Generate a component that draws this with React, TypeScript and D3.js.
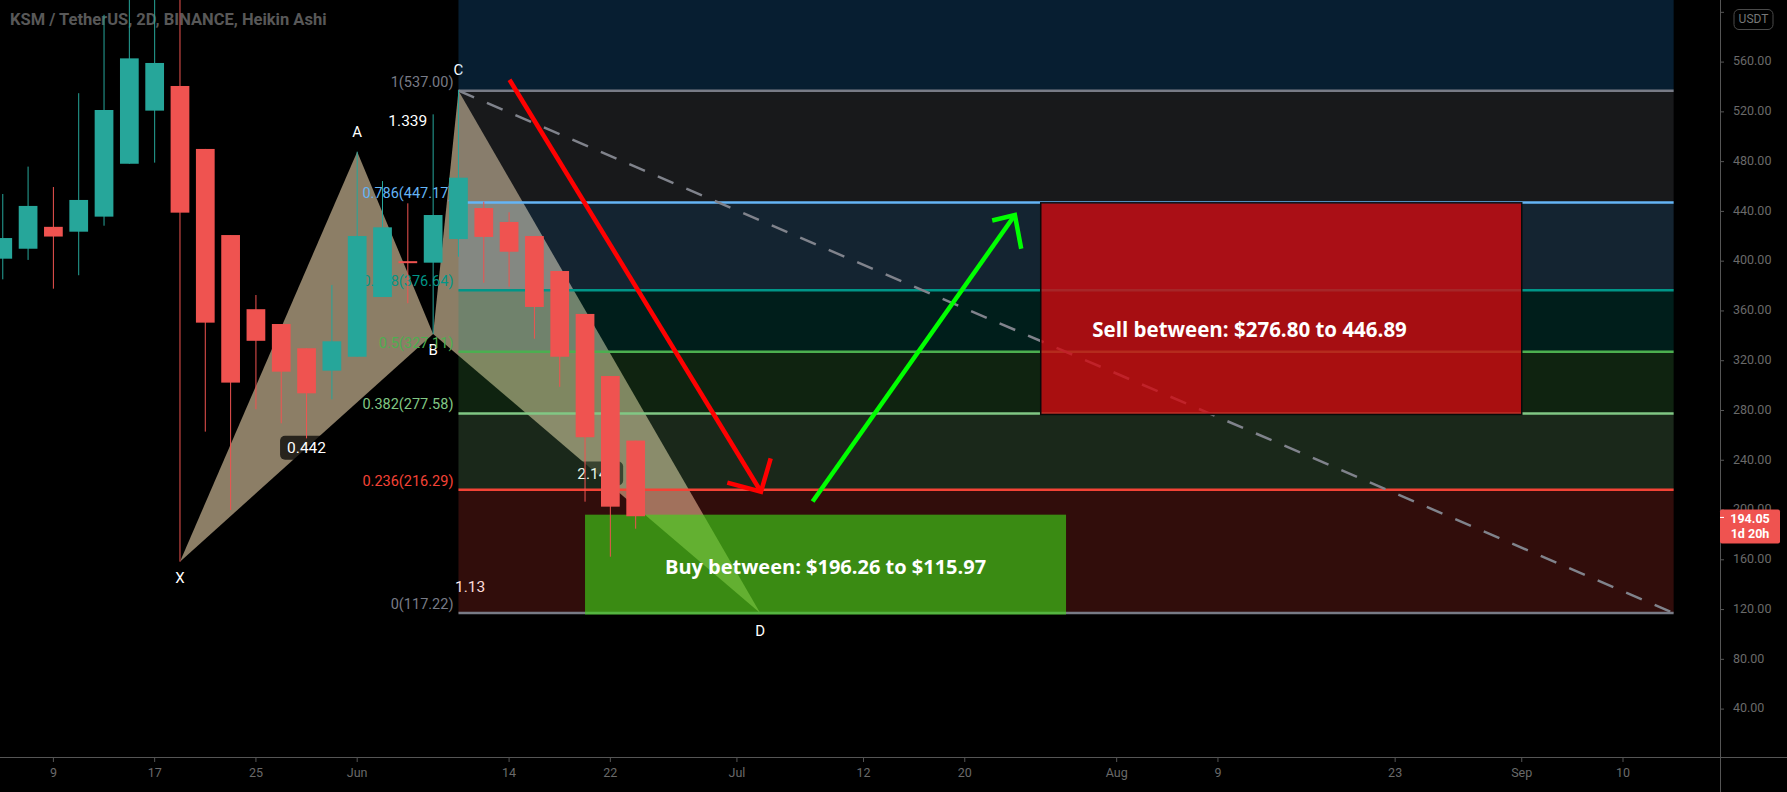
import * as d3 from 'd3'
import { useEffect } from 'react'

// KSM / USDT 2D Heikin Ashi with an XABCD pattern, a fib retracement and buy / sell zones.

const W = 1787
const H = 792
const AXIS_X = 1720
const AXIS_Y = 757

const FONT = 'Roboto, "DejaVu Sans", sans-serif'
const BOX_FONT = '"Open Sans", Lato, sans-serif'
const TEAL = '#26a69a'
const RED = '#ef5350'
const AXIS = '#555555'
const AXIS_TEXT = '#6a6a6a'

const candleDates = [
  '2021-05-05', '2021-05-07', '2021-05-09', '2021-05-11', '2021-05-13', '2021-05-15', '2021-05-17',
  '2021-05-19', '2021-05-21', '2021-05-23', '2021-05-25', '2021-05-27', '2021-05-29', '2021-05-31',
  '2021-06-02', '2021-06-04', '2021-06-06', '2021-06-08', '2021-06-10', '2021-06-12', '2021-06-14',
  '2021-06-16', '2021-06-18', '2021-06-20', '2021-06-22', '2021-06-24',
]
const candleOpen = [402, 410, 427.6, 423.7, 435.8, 478.3, 521, 540.8, 490.2, 421, 361.4, 349.5, 330, 312, 323.2, 371.2, 400, 398.8, 417.8, 442.7, 431.5, 420.2, 392.1, 357.6, 307.7, 255.8]
const candleHigh = [454, 476, 459.6, 535, 598, 640, 640, 640, 490.2, 421, 372.8, 349.5, 330, 380.9, 488, 464.4, 446.5, 518, 537.6, 447.8, 439.3, 420.2, 392.1, 357.6, 307.7, 255.8]
const candleLow = [385.4, 401, 377.9, 388.7, 428.5, 478.3, 479.2, 158.5, 263, 200, 281, 269.7, 257.6, 289, 323.2, 371.2, 366.2, 341.5, 403.6, 382.7, 379.5, 337.7, 299, 206.7, 162.5, 185]
const candleClose = [418.6, 444.4, 419.8, 449.2, 521.5, 563, 559.3, 439, 350.6, 302.4, 336, 311.2, 293.8, 335.6, 420.2, 427.2, 398.5, 437.1, 467.1, 419.5, 407.6, 363.2, 323.2, 258.5, 202.7, 195]

const priceTicks = [40, 80, 120, 160, 200, 240, 280, 320, 360, 400, 440, 480, 520, 560, 600]
const timeTickDates = ['2021-05-09', '2021-05-17', '2021-05-25', '2021-06-02', '2021-06-14', '2021-06-22', '2021-07-02', '2021-07-12', '2021-07-20', '2021-08-01', '2021-08-09', '2021-08-23', '2021-09-02', '2021-09-10']
const timeTickLabels = ['9', '17', '25', 'Jun', '14', '22', 'Jul', '12', '20', 'Aug', '9', '23', 'Sep', '10']

// fib retracement
const fibRatios = ['0', '0.236', '0.382', '0.5', '0.618', '0.786', '1', '1.618']
const fibPrices = [117.22, 216.29, 277.58, 327.11, 376.64, 447.17, 537.0, 796.59]
const fibColors = ['#787b86', '#f44336', '#81c784', '#4caf50', '#009688', '#64b5f6', '#787b86', '#2196f3']
const fibStart = '2021-06-10 00:00'
const fibEnd = '2021-09-14 00:00'

// XABCD pattern
const patternNames = ['X', 'A', 'B', 'C', 'D']
const patternTimes = ['2021-05-19 00:00', '2021-06-02 00:00', '2021-06-08 00:00', '2021-06-10 00:00', '2021-07-03 20:00']
const patternPrices = [158.5, 488, 341.5, 537, 117.22]
const ratioLabels = ['0.442', '1.339', '2.147', '1.13']
const ratioPairs = [[0, 2], [1, 3], [2, 4], [0, 4]]

// zones
const buyTimes = ['2021-06-20 00:00', '2021-07-28 00:00']
const buyPrices = [196.26, 115.97]
const buyText = 'Buy between: $196.26 to $115.97'
const buyTextAt = { t: '2021-07-09 00:00', p: 152.6 }
const sellTimes = ['2021-07-26 00:00', '2021-09-02 00:00']
const sellPrices = [446.89, 276.8]
const sellText = 'Sell between: $276.80 to 446.89'
const sellTextAt = { t: '2021-08-11 12:00', p: 343.3 }

// arrows: shaft start, tip, two head ends
const redArrowTimes = ['2021-06-14 00:45', '2021-07-03 21:36', '2021-07-04 16:00', '2021-07-01 05:45']
const redArrowPrices = [545.8, 214.7, 241.6, 222.0]
const greenArrowTimes = ['2021-07-07 23:30', '2021-07-23 23:00', '2021-07-24 11:00', '2021-07-22 04:00']
const greenArrowPrices = [206.8, 437.1, 410, 432.7]

const lastPrice = 194.05
const lastCountdown = '1d 20h'

const parseDay = d3.timeParse('%Y-%m-%d')
const parseTime = d3.timeParse('%Y-%m-%d %H:%M')

const x = d3
  .scaleTime()
  .domain([parseDay('2021-05-09')!, parseDay('2021-09-10')!])
  .range([53.4, 1623])
const y = d3.scaleLinear().domain([40, 560]).range([709.1, 62.1])

const xt = (s: string) => x(parseTime(s)!)

function Arrow({ times, prices, color }: { times: string[]; prices: number[]; color: string }) {
  const pts = times.map((t, i) => [xt(t), y(prices[i])] as [number, number])
  const [s, tip, a, b] = pts
  return (
    <g stroke={color} strokeWidth={4.5} strokeLinecap="butt" fill="none">
      <line x1={s[0]} y1={s[1]} x2={tip[0]} y2={tip[1]} />
      <path d={`M${a[0]},${a[1]}L${tip[0]},${tip[1]}L${b[0]},${b[1]}`} strokeLinejoin="miter" />
    </g>
  )
}

export default function App() {
  useEffect(() => {
    document.body.style.margin = '0'
    document.body.style.background = '#000'
  }, [])

  const step = x(parseDay('2021-05-11')!) - x(parseDay('2021-05-09')!)
  const bodyW = step * 0.74

  const fx0 = xt(fibStart)
  const fx1 = xt(fibEnd)

  const pp = patternTimes.map((t, i) => [xt(t), y(patternPrices[i])] as [number, number])
  const tri1 = `M${pp[0][0]},${pp[0][1]}L${pp[1][0]},${pp[1][1]}L${pp[2][0]},${pp[2][1]}Z`
  const tri2 = `M${pp[2][0]},${pp[2][1]}L${pp[3][0]},${pp[3][1]}L${pp[4][0]},${pp[4][1]}Z`
  const nameOffset = [17, -19, 17, -20, 19]

  const buy = { x0: xt(buyTimes[0]), x1: xt(buyTimes[1]), y0: y(buyPrices[0]), y1: y(buyPrices[1]) }
  const sell = { x0: xt(sellTimes[0]), x1: xt(sellTimes[1]), y0: y(sellPrices[0]), y1: y(sellPrices[1]) }

  const ly = y(lastPrice)

  return (
    <svg width={W} height={H} style={{ display: 'block', background: '#000' }} fontFamily={FONT}>
      <defs>
        <clipPath id="plot">
          <rect x={0} y={0} width={AXIS_X} height={AXIS_Y} />
        </clipPath>
      </defs>

      <g clipPath="url(#plot)">
        <text x={10} y={21} dominantBaseline="middle" fill="#585858" fontSize={16.5} fontWeight={700}>
          KSM / TetherUS, 2D, BINANCE, Heikin Ashi
        </text>

        {/* pattern */}
        <path d={tri1} fill="#8c7e66" />
        <path d={tri2} fill="#8c7e66" />
        {patternNames.map((n, i) => (
          <text key={n} x={pp[i][0]} y={pp[i][1] + nameOffset[i]} textAnchor="middle" dominantBaseline="middle" fill="#fff" fontSize={15}>
            {n}
          </text>
        ))}
        {ratioLabels.map((r, i) => {
          const [a, b] = ratioPairs[i]
          const cx = (pp[a][0] + pp[b][0]) / 2
          const cy = (pp[a][1] + pp[b][1]) / 2
          const bw = r.length * 8.6 + 10
          return (
            <g key={r}>
              <rect x={cx - bw / 2} y={cy - 12} width={bw} height={24} rx={5} fill="rgba(0,0,0,0.72)" />
              <text x={cx} y={cy + 1} textAnchor="middle" dominantBaseline="middle" fill="#fff" fontSize={15.5}>
                {r}
              </text>
            </g>
          )
        })}

        {/* fib retracement */}
        {fibPrices.slice(1).map((p, i) => (
          <rect
            key={'band' + i}
            x={fx0}
            width={fx1 - fx0}
            y={y(p)}
            height={y(fibPrices[i]) - y(p)}
            fill={fibColors[i + 1]}
            fillOpacity={0.2}
          />
        ))}
        {fibPrices.map((p, i) =>
          y(p) < 0 ? null : (
            <g key={'lvl' + i}>
              <line x1={fx0} x2={fx1} y1={y(p)} y2={y(p)} stroke={fibColors[i]} strokeWidth={2.5} />
              <text x={fx0 - 5} y={y(p) - 4} textAnchor="end" fill={fibColors[i]} fontSize={14.5}>
                {`${fibRatios[i]}(${p.toFixed(2)})`}
              </text>
            </g>
          ),
        )}
        <line
          x1={fx0}
          y1={y(fibPrices[6])}
          x2={fx1}
          y2={y(fibPrices[0])}
          stroke="#80838c"
          strokeWidth={2.5}
          strokeDasharray="17 14"
        />

        {/* buy zone */}
        <rect x={buy.x0} y={buy.y0} width={buy.x1 - buy.x0} height={buy.y1 - buy.y0} fill="rgb(63,214,24)" fillOpacity={0.63} />

        {/* candles */}
        {candleDates.map((d, i) => {
          const cx = x(parseDay(d)!)
          const o = candleOpen[i]
          const c = candleClose[i]
          const col = c >= o ? TEAL : RED
          const top = y(Math.max(o, c))
          const bot = y(Math.min(o, c))
          return (
            <g key={d}>
              <line x1={cx} x2={cx} y1={y(candleHigh[i])} y2={y(candleLow[i])} stroke={col} strokeWidth={1} />
              <rect x={cx - bodyW / 2} y={top} width={bodyW} height={Math.max(2, bot - top)} fill={col} />
            </g>
          )
        })}

        {/* sell zone */}
        <rect
          x={sell.x0}
          y={sell.y0}
          width={sell.x1 - sell.x0}
          height={sell.y1 - sell.y0}
          fill="rgb(207,10,16)"
          fillOpacity={0.8}
          stroke="#0a0a0a"
          strokeWidth={1.5}
        />
        <text
          x={xt(sellTextAt.t)}
          y={y(sellTextAt.p)}
          textAnchor="middle"
          dominantBaseline="middle"
          fill="#fff"
          fontFamily={BOX_FONT}
          fontWeight={700}
          fontSize={20.5}
        >
          {sellText}
        </text>
        <text
          x={xt(buyTextAt.t)}
          y={y(buyTextAt.p)}
          textAnchor="middle"
          dominantBaseline="middle"
          fill="#fff"
          fontFamily={BOX_FONT}
          fontWeight={700}
          fontSize={20}
        >
          {buyText}
        </text>

        <Arrow times={redArrowTimes} prices={redArrowPrices} color="#ff0000" />
        <Arrow times={greenArrowTimes} prices={greenArrowPrices} color="#00ff00" />
      </g>

      {/* axes */}
      <line x1={AXIS_X + 0.5} x2={AXIS_X + 0.5} y1={0} y2={H} stroke={AXIS} strokeWidth={1} />
      <line x1={0} x2={W} y1={AXIS_Y + 0.5} y2={AXIS_Y + 0.5} stroke={AXIS} strokeWidth={1} />
      {priceTicks.map((p) => (
        <g key={p}>
          <line x1={AXIS_X} x2={AXIS_X + 4} y1={y(p)} y2={y(p)} stroke={AXIS} />
          {y(p) > 30 && (
            <text x={AXIS_X + 13} y={y(p)} dominantBaseline="middle" fill={AXIS_TEXT} fontSize={12.5}>
              {p.toFixed(2)}
            </text>
          )}
        </g>
      ))}
      {timeTickDates.map((d, i) => {
        const tx = x(parseDay(d)!)
        return (
          <g key={d}>
            <line x1={tx} x2={tx} y1={AXIS_Y} y2={AXIS_Y + 5} stroke={AXIS} />
            <text x={tx} y={774} textAnchor="middle" dominantBaseline="middle" fill={AXIS_TEXT} fontSize={12.5}>
              {timeTickLabels[i]}
            </text>
          </g>
        )
      })}

      {/* USDT badge */}
      <rect x={1734} y={9.5} width={39} height={20} rx={5} fill="#000" stroke="#4a4a4a" />
      <text x={1753.5} y={20} textAnchor="middle" dominantBaseline="middle" fill="#777" fontSize={12}>
        USDT
      </text>

      {/* last price */}
      <rect x={AXIS_X} y={ly - 8} width={60} height={34} rx={2} fill={RED} />
      <line x1={AXIS_X} x2={AXIS_X + 4} y1={ly} y2={ly} stroke="#fff" />
      <text x={1750} y={ly + 2} textAnchor="middle" dominantBaseline="middle" fill="#fff" fontSize={12.5} fontWeight={700}>
        {lastPrice.toFixed(2)}
      </text>
      <text x={1750} y={ly + 17} textAnchor="middle" dominantBaseline="middle" fill="#fff" fontSize={12.5} fontWeight={700}>
        {lastCountdown}
      </text>
    </svg>
  )
}
